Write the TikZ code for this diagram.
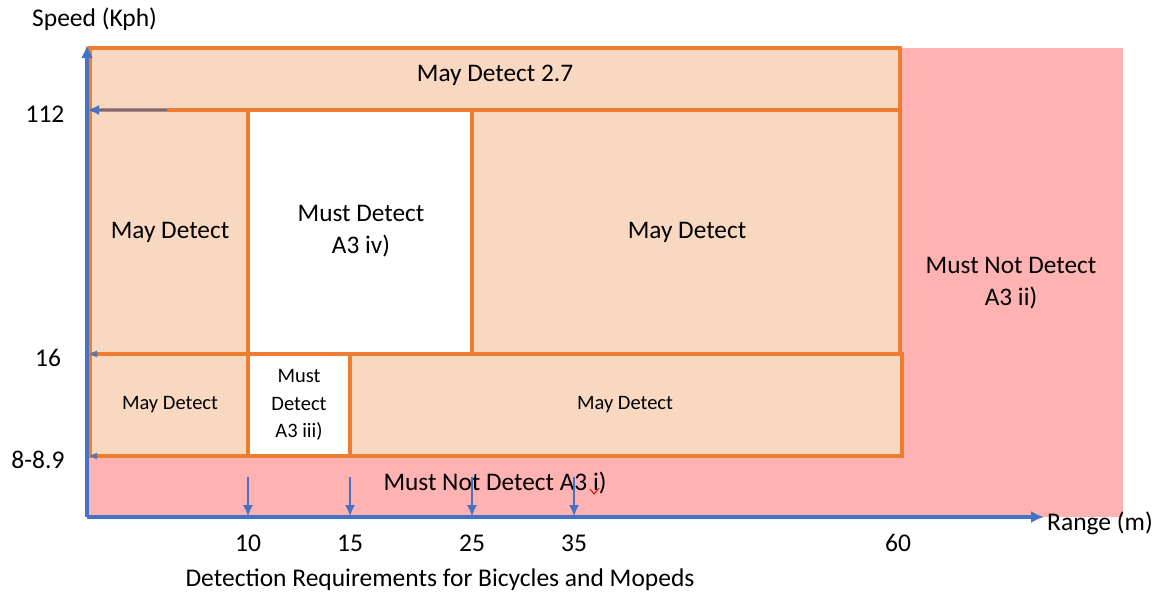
\documentclass[tikz,border=0pt]{standalone}
\usepackage{fontspec}
\setmainfont{Carlito}
\usetikzlibrary{arrows.meta}
\definecolor{zoneorange}{HTML}{ED7D31}
\definecolor{zonepeach}{HTML}{F9D8C1}
\definecolor{zonered}{HTML}{FFB2B2}
\definecolor{axisblue}{HTML}{4472C4}

\tikzset{%
  >=Latex
}

\begin{document}
\begin{tikzpicture}[x=1pt,y=-1pt,
    cell/.style={draw=zoneorange, line width=3.4pt},
    bigtext/.style={font=\fontsize{25.3}{32}\selectfont, align=center},
    smalltext/.style={font=\fontsize{20.5}{27.5}\selectfont, align=center},
    ticktext/.style={font=\fontsize{25.5}{30}\selectfont},
    axisline/.style={axisblue, line width=4pt, -{Latex[length=13pt,width=12pt]}},
    marker/.style={axisblue, line width=1.3pt, -{Latex[length=11pt,width=10pt]}}]
     \useasboundingbox (0,0) rectangle (1158,597);
     \fill[zonered] (88,48) rectangle (1123,517);

     % zones
     \filldraw[cell, fill=zonepeach] (90,48) rectangle (900,110);
     \filldraw[cell, fill=zonepeach] (90,110) rectangle (248,354);
     \filldraw[cell, fill=white] (248,110) rectangle (472,354);
     \filldraw[cell, fill=zonepeach] (472,110) rectangle (900,354);
     \filldraw[cell, fill=zonepeach] (90,354) rectangle (248,456);
     \filldraw[cell, fill=white] (248,354) rectangle (350,456);
     \filldraw[cell, fill=zonepeach] (350,354) rectangle (902,456);

     \node[bigtext] (top) at (495,75) {May Detect 2.7};
     \node[bigtext] (midleft) at (170,232) {May Detect};
     \node[bigtext] (midmust) at (361,231) {Must Detect\\A3 iv)};
     \node[bigtext] (midright) at (687,232) {May Detect};
     \node[bigtext] (farzone) at (1011,283) {Must Not Detect\\A3 ii)};
     \node[smalltext] (lowleft) at (170,405) {May Detect};
     \node[smalltext] (lowmust) at (299,405) {Must\\Detect\\A3 iii)};
     \node[smalltext] (lowright) at (625,405) {May Detect};
     \node[bigtext] (slowzone) at (495,483) {Must Not Detect A3 i)};
     \draw[red, line width=1pt] (590,489) -- (594,494) -- (599,488);

     % axes
     \coordinate (origin) at (87,517);
     \coordinate (ytop) at (87,45);
     \coordinate (xend) at (1044,517);
     \draw[axisline] (origin) -- (ytop);
     \draw[axisline] (origin) -- (xend);
     \node[ticktext, anchor=west, inner sep=0pt] (ylabel) at (32,19) {Speed (Kph)};
     \node[ticktext, anchor=west, inner sep=0pt] (xlabel) at (1047,523) {Range (m)};

     \coordinate (mark112) at (167,110);
     \draw[marker] (mark112) -- (88,110);
     \foreach \y in {354,456}
       \draw[axisblue!60!gray, line width=0.6pt, -{Latex[length=8pt,width=7pt]}] (97,\y) -- (89,\y);

     \node[ticktext] (v112) at (45,114) {112};
     \node[ticktext] (v16) at (48,358) {16};
     \node[ticktext] (v8) at (38,460) {8-8.9};

     \foreach \x/\l in {248/10, 350/15, 472/25, 574/35}
     {
       \draw[marker] (\x,477) -- (\x,516);
       \node[ticktext] (r\l) at (\x,543) {\l};
     }
     \node[ticktext] (r60) at (898,543) {60};

     \node[ticktext] (caption) at (440,580) {Detection Requirements for Bicycles and Mopeds};
\end{tikzpicture}
\end{document}
